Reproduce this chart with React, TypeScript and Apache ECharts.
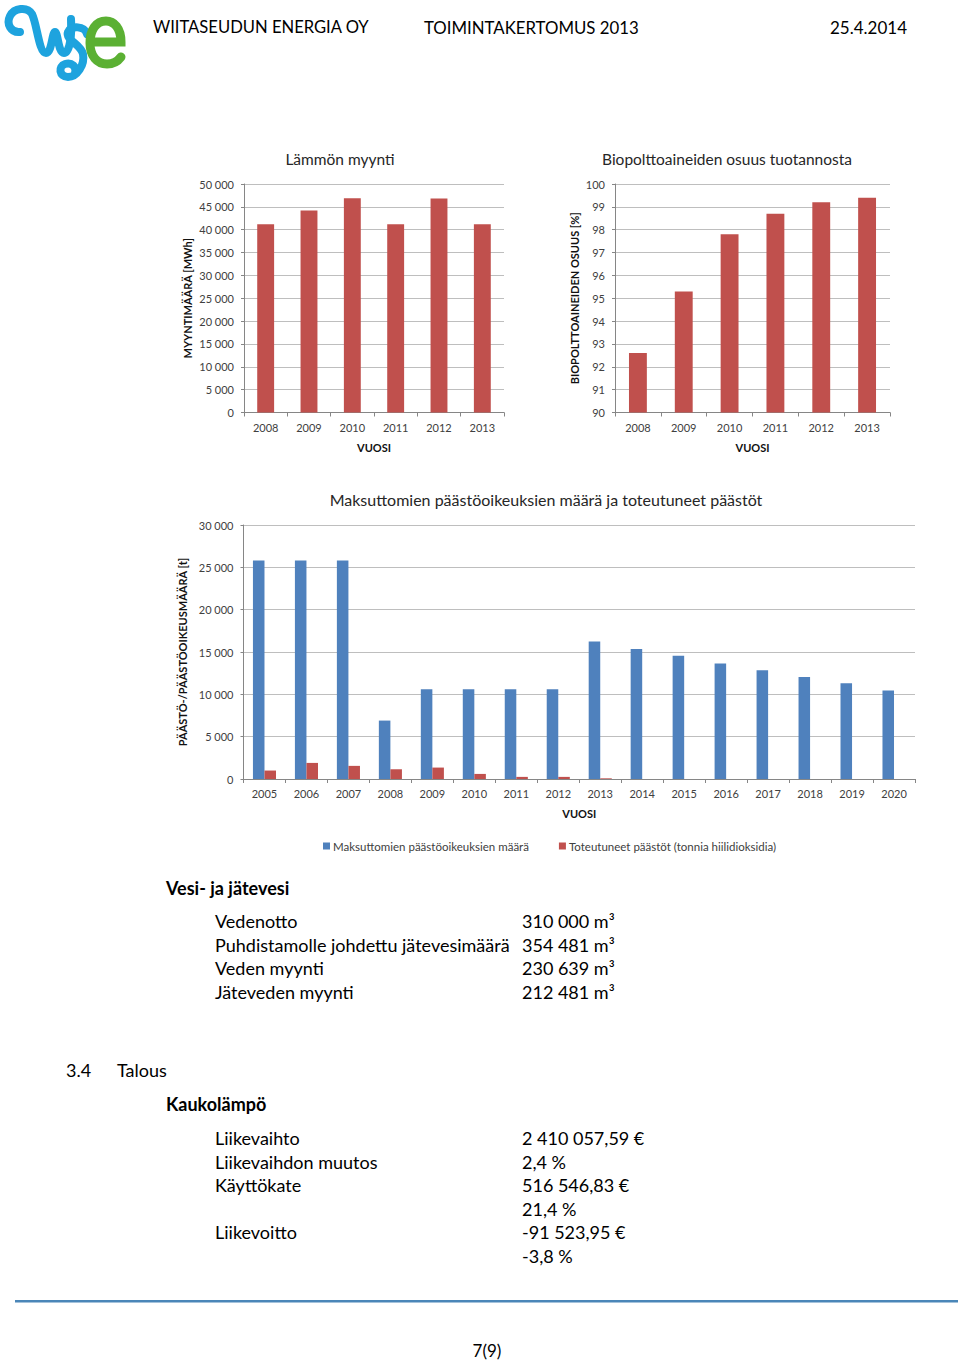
import React, { useEffect, useRef } from "react";
import * as echarts from "echarts";

const heatYears = ["2008", "2009", "2010", "2011", "2012", "2013"];
const heatSales = [41200, 44200, 46900, 41200, 46800, 41200];

const bioYears = ["2008", "2009", "2010", "2011", "2012", "2013"];
const bioShare = [92.6, 95.3, 97.8, 98.7, 99.2, 99.4];

const emissionYears = ["2005", "2006", "2007", "2008", "2009", "2010", "2011", "2012", "2013", "2014", "2015", "2016", "2017", "2018", "2019", "2020"];
const freeAllowances = [25800, 25800, 25800, 6900, 10600, 10600, 10600, 10600, 16250, 15350, 14550, 13650, 12850, 12050, 11300, 10450];
const realizedEmissions = [1000, 1900, 1550, 1150, 1350, 600, 250, 250, 80, null, null, null, null, null, null, null];

const headerTexts = ["WIITASEUDUN ENERGIA OY", "TOIMINTAKERTOMUS 2013", "25.4.2014"];

const waterTitle = "Vesi- ja jätevesi";
const waterLabels = ["Vedenotto", "Puhdistamolle johdettu jätevesimäärä", "Veden myynti", "Jäteveden myynti"];
const waterValues = ["310 000 m³", "354 481 m³", "230 639 m³", "212 481 m³"];

const sectionNumber = "3.4";
const sectionTitle = "Talous";
const financeTitle = "Kaukolämpö";
const financeLabels = ["Liikevaihto", "Liikevaihdon muutos", "Käyttökate", "", "Liikevoitto", ""];
const financeValues = ["2 410 057,59 €", "2,4 %", "516 546,83 €", "21,4 %", "-91 523,95 €", "-3,8 %"];

const pageNumber = "7(9)";

const FONT = "Lato";
const RED = "#C0504D";
const BLUE = "#4F81BD";
const AXIS = "#868686";
const GRID = "#BEBEBE";
const TXT = "#404040";

const fmt = (v: number) => {
  const s = String(Math.round(v));
  return s.replace(/\B(?=(\d{3})+(?!\d))/g, " ");
};

echarts.graphic.registerShape(
  "wseW",
  echarts.graphic.extendPath(
    "M 20 32 C 11 33 6 24 10 16 C 14 8 27 6 32 14 C 37 24 39 53 46 53 C 52 53 52 32 55 32 C 58 32 58 53 64 53 C 70 53 72 34 71 19",
    {}
  )
);
echarts.graphic.registerShape(
  "wseS",
  echarts.graphic.extendPath(
    "M 87 34 C 85 26 71 25 68 32 C 65 40 81 44 83 54 C 85 65 77 77 68 77 C 59 77 58 66 65 64 C 72 62 77 67 75 73",
    {}
  )
);
echarts.graphic.registerShape(
  "wseE",
  echarts.graphic.extendPath(
    "M 94 42 L 121 42 C 121 28 114 21 106 21 C 96 21 90 30 90 43 C 90 56 97 64 107 64 C 113 64 118 61 121 57",
    {}
  )
);

export default function App() {
  const ref = useRef<HTMLDivElement>(null);
  useEffect(() => {
    if (!ref.current) return;
    const chart = echarts.init(ref.current, undefined, { renderer: "svg" });

    const axisLabel = { color: TXT, fontSize: 11, fontFamily: FONT };
    const nameStyle = { color: "#111", fontSize: 11, fontWeight: "bold" as const, fontFamily: FONT };
    const xAxisBase = (data: string[], gridIndex: number) => ({
      type: "category" as const,
      data,
      gridIndex,
      name: "VUOSI",
      nameLocation: "middle" as const,
      nameGap: 29,
      nameTextStyle: nameStyle,
      axisLine: { lineStyle: { color: AXIS } },
      axisTick: { show: true, length: 4, lineStyle: { color: AXIS } },
      axisLabel: { ...axisLabel, margin: 9 },
      splitLine: { show: false },
    });
    const yAxisBase = (gridIndex: number, min: number, max: number, interval: number, name: string, nameGap: number, formatter: any) => ({
      type: "value" as const,
      gridIndex,
      min,
      max,
      interval,
      name,
      nameLocation: "middle" as const,
      nameRotate: 90,
      nameGap,
      nameTextStyle: nameStyle,
      axisLine: { show: true, lineStyle: { color: AXIS } },
      axisTick: { show: true, length: 3, lineStyle: { color: AXIS } },
      axisLabel: { ...axisLabel, margin: 10, formatter },
      splitLine: { show: true, lineStyle: { color: GRID, width: 1 } },
    });

    const textEl = (text: string, x: number, y: number, opts: any = {}) => ({
      type: "text",
      x,
      y,
      silent: true,
      style: {
        text,
        fill: opts.fill || "#000",
        fontSize: opts.fontSize || 18,
        fontFamily: FONT,
        fontWeight: opts.fontWeight || "normal",
        align: opts.align || "left",
        verticalAlign: "middle",
      },
    });

    const graphics: any[] = [];
    graphics.push({ type: "wseW", x: 0, y: 0, silent: true, style: { fill: "none", stroke: "#1EA3DE", lineWidth: 8, lineCap: "round" } });
    graphics.push({ type: "wseS", x: 0, y: 0, silent: true, style: { fill: "none", stroke: "#1EA3DE", lineWidth: 8, lineCap: "round" } });
    graphics.push({ type: "wseE", x: 0, y: 0, silent: true, style: { fill: "none", stroke: "#5BB033", lineWidth: 9, lineCap: "round" } });
    graphics.push(textEl(headerTexts[0], 153, 27, { fontSize: 16.6 }));
    graphics.push(textEl(headerTexts[1], 424, 27, { fontSize: 16.8 }));
    graphics.push(textEl(headerTexts[2], 907, 27, { fontSize: 17, align: "right" }));
    // water section
    graphics.push(textEl(waterTitle, 166, 888, { fontWeight: "bold" }));
    waterLabels.forEach((l, i) => {
      const y = 921 + i * 23.5;
      graphics.push(textEl(l, 215, y));
      graphics.push(textEl(waterValues[i], 522, y));
    });
    // finance
    graphics.push(textEl(sectionNumber, 66, 1070));
    graphics.push(textEl(sectionTitle, 117, 1070));
    graphics.push(textEl(financeTitle, 166, 1104, { fontWeight: "bold" }));
    financeLabels.forEach((l, i) => {
      const y = 1138 + i * 23.5;
      if (l) graphics.push(textEl(l, 215, y));
      graphics.push(textEl(financeValues[i], 522, y));
    });
    // footer
    graphics.push({ type: "rect", silent: true, shape: { x: 15, y: 1300, width: 943, height: 2.5 }, style: { fill: "#4A86B8" } });
    graphics.push(textEl(pageNumber, 487, 1350, { align: "center", fontSize: 17 }));

    const titleStyle = { fontWeight: "normal" as const, color: "#262626", fontFamily: FONT };
    chart.setOption({
      animation: false,
      backgroundColor: "#fff",
      title: [
        { text: "Lämmön myynti", left: 335, top: 146, textAlign: "center", textStyle: { ...titleStyle, fontSize: 15.5 } },
        { text: "Biopolttoaineiden osuus tuotannosta", left: 722, top: 146, textAlign: "center", textStyle: { ...titleStyle, fontSize: 15.5 } },
        { text: "Maksuttomien päästöoikeuksien määrä ja toteutuneet päästöt", left: 541, top: 486, textAlign: "center", textStyle: { ...titleStyle, fontSize: 16 } },
      ],
      legend: {
        data: ["Maksuttomien päästöoikeuksien määrä", "Toteutuneet päästöt (tonnia hiilidioksidia)"],
        left: 318,
        top: 835,
        itemWidth: 7,
        itemHeight: 7,
        itemGap: 30,
        icon: "rect",
        textStyle: { color: TXT, fontSize: 11.5, fontFamily: FONT, padding: [0, 0, 0, -2] },
      },
      grid: [
        { left: 244, top: 184, width: 260, height: 228.5, containLabel: false },
        { left: 615, top: 184, width: 275, height: 228.5, containLabel: false },
        { left: 243.5, top: 525, width: 671.5, height: 254, containLabel: false },
      ],
      xAxis: [xAxisBase(heatYears, 0), xAxisBase(bioYears, 1), xAxisBase(emissionYears, 2)],
      yAxis: [
        yAxisBase(0, 0, 50000, 5000, "MYYNTIMÄÄRÄ [MWh]", 51, fmt),
        yAxisBase(1, 90, 100, 1, "BIOPOLTTOAINEIDEN OSUUS [%]", 35, (v: number) => String(v)),
        yAxisBase(2, 0, 30000, 5000, "PÄÄSTÖ-/PÄÄSTÖOIKEUSMÄÄRÄ [t]", 50, fmt),
      ],
      series: [
        { name: "Lämmön myynti", type: "bar", xAxisIndex: 0, yAxisIndex: 0, data: heatSales, itemStyle: { color: RED }, barCategoryGap: "61%" },
        { name: "Biopolttoaineiden osuus", type: "bar", xAxisIndex: 1, yAxisIndex: 1, data: bioShare, itemStyle: { color: RED }, barCategoryGap: "61%" },
        { name: "Maksuttomien päästöoikeuksien määrä", type: "bar", xAxisIndex: 2, yAxisIndex: 2, data: freeAllowances, itemStyle: { color: BLUE }, barGap: "0%", barCategoryGap: "45%" },
        { name: "Toteutuneet päästöt (tonnia hiilidioksidia)", type: "bar", xAxisIndex: 2, yAxisIndex: 2, data: realizedEmissions, itemStyle: { color: RED }, barGap: "0%", barCategoryGap: "45%" },
      ],
      graphic: graphics,
    });
    return () => chart.dispose();
  }, []);
  return <div ref={ref} style={{ position: "absolute", left: 0, top: 0, width: 960, height: 1362, background: "#fff" }} />;
}
